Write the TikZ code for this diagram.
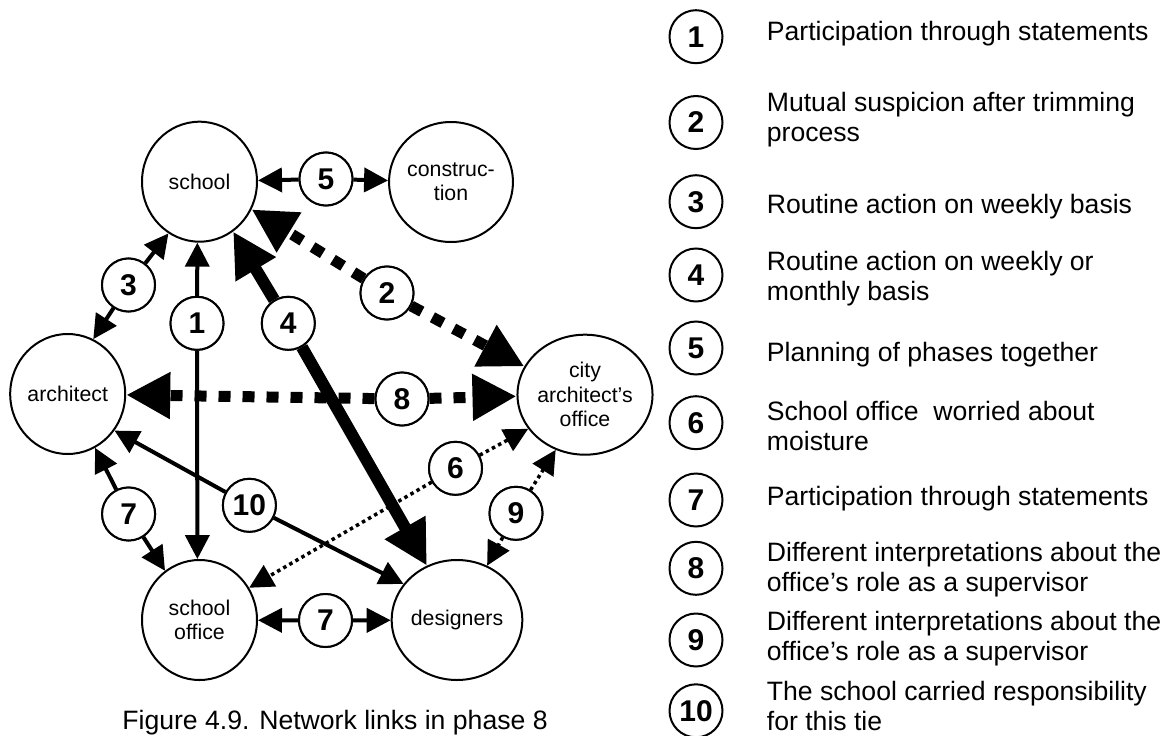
\documentclass[tikz,border=0pt]{standalone}
\usepackage{fontspec}
\setmainfont{Liberation Sans}
\usetikzlibrary{arrows.meta,shapes.geometric}

\begin{document}
\begin{tikzpicture}[x=1pt,y=-1pt,
  actor/.style={ellipse,draw,line width=2pt,minimum width=115pt,minimum height=120pt,
    inner sep=0pt,align=center,font=\fontsize{21.3}{24.4}\selectfont},
  tag/.style={circle,draw,line width=2pt,fill=white,minimum size=53pt,inner sep=0pt,
    font=\fontsize{30}{30}\selectfont\bfseries},
  link/.style={line width=4pt},
  heavy/.style={line width=12pt},
  bigdash/.style={line width=11pt,dash pattern=on 12pt off 12pt},
  dots/.style={line width=3.5pt,dash pattern=on 3.5pt off 3.5pt},
  toS/.style={-{Triangle[length=24pt,width=24pt]}},
  toB/.style={-{Triangle[length=44pt,width=44pt]}},
  % base anchor of a multi-line legend entry sits on its last line
  legend/.style={anchor=base west,align=left,inner sep=0pt,
    font=\fontsize{26.6}{30}\selectfont},
]
\useasboundingbox (0,0) rectangle (1168,736);
\fill[white] (0,0) rectangle (1168,736);

% actors of the network
\node[actor] (school)       at (199.5,181.7) {school};
\node[actor] (construction) at (451,182)     {construc-\\tion};
\node[actor] (architect)    at (67.7,394)    {architect};
\node[actor] (city)         at (585,394.7)   {city\\architect’s\\office};
\node[actor] (schooloffice) at (199.5,620)   {school\\office};
\node[actor] (designers)    at (457,620)     {designers};

% places of the tie numbers
\coordinate (p1)  at (197,323.3);
\coordinate (p2)  at (387,293);
\coordinate (p3)  at (128.5,285);
\coordinate (p4)  at (288.3,323.3);
\coordinate (p5)  at (326,179);
\coordinate (p6)  at (455.5,468.3);
\coordinate (p7a) at (128.6,514);
\coordinate (p7b) at (325.5,620.5);
\coordinate (p8)  at (402,399);
\coordinate (p9)  at (516,513.3);
\coordinate (p10) at (249.4,505.3);

\node[tag] (l1)  at (p1)  {1};
\node[tag] (l2)  at (p2)  {2};
\node[tag] (l3)  at (p3)  {3};
\node[tag] (l4)  at (p4)  {4};
\node[tag] (l5)  at (p5)  {5};
\node[tag] (l6)  at (p6)  {6};
\node[tag] (l7a) at (p7a) {7};
\node[tag] (l7b) at (p7b) {7};
\node[tag] (l8)  at (p8)  {8};
\node[tag] (l9)  at (p9)  {9};
\node[tag] (l10) at (p10) {10};

% ties
\draw[link,toS] (l1) -- (school.-92);
\draw[link,toS] (l1) -- (schooloffice.92);
\draw[bigdash,toB] (l2) -- (school.-28);
\draw[bigdash,toB] (l2) -- (city.155);
\draw[link,toS] (l3) -- (school.-121);
\draw[link,toS] (l3) -- (architect.65);
\draw[heavy,toB] (l4) -- (school.-56.6);
\draw[heavy,toB] (l4) -- (designers.119.4);
\draw[link,toS] (l5) -- (school);
\draw[link,toS] (l5) -- (construction);
\draw[dots,toS] (l6) -- (schooloffice.33.3);
\draw[dots,toS] (l6) -- (city.-149.4);
\draw[link,toS] (l7a) -- (architect.-63.3);
\draw[link,toS] (l7a) -- (schooloffice.125.2);
\draw[link,toS] (l7b) -- (schooloffice);
\draw[link,toS] (l7b) -- (designers);
\draw[bigdash,toB] (l8) -- (architect);
\draw[bigdash,toB] (l8) -- (city);
\draw[dots,toS] (l9) -- (designers.61.6);
\draw[dots,toS] (l9) -- (city.-118.3);
\draw[link,toS] (l10) -- (architect.-38.7);
\draw[link,toS] (l10) -- (designers.146.9);

% tie numbers on top of the lines
\node[tag] at (p1)  {1};
\node[tag] at (p2)  {2};
\node[tag] at (p3)  {3};
\node[tag] at (p4)  {4};
\node[tag] at (p5)  {5};
\node[tag] at (p6)  {6};
\node[tag] at (p7a) {7};
\node[tag] at (p7b) {7};
\node[tag] at (p8)  {8};
\node[tag] at (p9)  {9};
\node[tag] at (p10) {10};

\node[anchor=base,inner sep=0pt,font=\fontsize{26.6}{30}\selectfont] (caption)
  at (335,729) {Figure 4.9. Network links in phase 8};

% key
\node[tag] (k1)  at (696,36.7)  {1};
\node[tag] (k2)  at (696,122.5) {2};
\node[tag] (k3)  at (696,201.7) {3};
\node[tag] (k4)  at (696,275)   {4};
\node[tag] (k5)  at (696,348)   {5};
\node[tag] (k6)  at (696,422.7) {6};
\node[tag] (k7)  at (696,500)   {7};
\node[tag] (k8)  at (696,568.3) {8};
\node[tag] (k9)  at (696,640)   {9};
\node[tag] (k10) at (696,710.8) {10};

\node[legend] (t1)  at (766.7,40)    {Participation through statements};
\node[legend] (t2)  at (766.7,141.7) {Mutual suspicion after trimming\\process};
\node[legend] (t3)  at (766.7,213.3) {Routine action on weekly basis};
\node[legend] (t4)  at (766.7,300)   {Routine action on weekly or\\monthly basis};
\node[legend] (t5)  at (766.7,361.7) {Planning of phases together};
\node[legend] (t6)  at (766.7,450)   {School office~ worried about\\moisture};
\node[legend] (t7)  at (766.7,505.5) {Participation through statements};
\node[legend] (t8)  at (766.7,591)   {Different interpretations about the\\office’s role as a supervisor};
\node[legend] (t9)  at (766.7,660.7) {Different interpretations about the\\office’s role as a supervisor};
\node[legend] (t10) at (766.7,730.5) {The school carried responsibility\\for this tie};
\end{tikzpicture}
\end{document}
